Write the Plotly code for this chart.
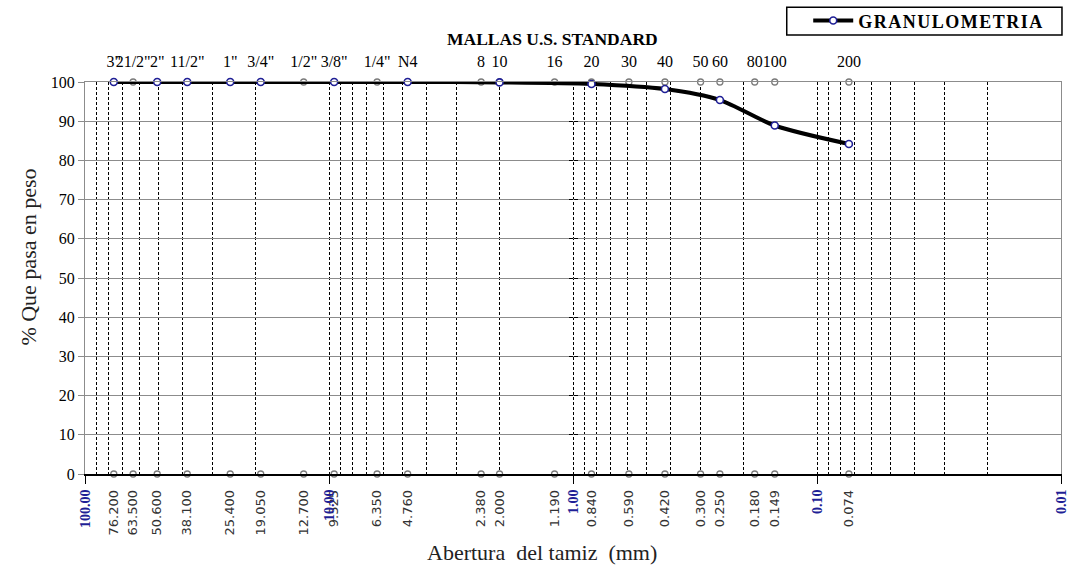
import plotly.graph_objects as go

# ---------------- data ----------------
sieve_names = ['3"', '21/2"', '2"', '11/2"', '1"', '3/4"', '1/2"', '3/8"', '1/4"', 'N4',
               '8', '10', '16', '20', '30', '40', '50', '60', '80', '100', '200']
sieve_openings = [76.2, 63.5, 50.6, 38.1, 25.4, 19.05, 12.7, 9.525, 6.35, 4.76,
                  2.38, 2.0, 1.19, 0.84, 0.59, 0.42, 0.30, 0.25, 0.18, 0.149, 0.074]

data_openings = [76.2, 50.6, 38.1, 25.4, 19.05, 9.525, 4.76, 2.0, 0.84, 0.42, 0.25, 0.149, 0.074]
data_passing = [100, 100, 100, 100, 100, 100, 100, 99.9, 99.5, 98.2, 95.4, 88.9, 84.2]

decade_vals = [100, 10, 1, 0.1, 0.01]
decade_text = ["100.00", "10.00", "1.00", "0.10", "0.01"]

y_ticks = list(range(0, 101, 10))

opening_text = [f"{v:.3f}" for v in sieve_openings]
grid_vals = [m * 10 ** e for e in (1, 0, -1, -2) for m in range(1, 10) if 0.01 < m * 10 ** e < 100]

SERIF = "Liberation Serif"
NAVY = "#1f1f96"
XR = [2, -2]  # log10 range, reversed (100 -> 0.01)
HS = "\u200a"  # hair space for letter spacing in legend

fig = go.Figure()

# sieve marker rows (bottom and top)
fig.add_trace(go.Scatter(x=sieve_openings, y=[0] * len(sieve_openings), mode="markers",
                         marker=dict(symbol="circle", size=6, color="white",
                                     line=dict(color="#7a7a7a", width=1.3)),
                         showlegend=False, cliponaxis=False, hoverinfo="skip"))
fig.add_trace(go.Scatter(x=sieve_openings, y=[100] * len(sieve_openings), mode="markers",
                         marker=dict(symbol="circle", size=6, color="white",
                                     line=dict(color="#7a7a7a", width=1.3)),
                         showlegend=False, cliponaxis=False, hoverinfo="skip"))

# grading curve
fig.add_trace(go.Scatter(x=data_openings, y=data_passing, mode="lines+markers",
                         name=HS.join("GRANULOMETRIA"),
                         line=dict(color="black", width=4, shape="spline", smoothing=0.8),
                         marker=dict(symbol="circle", size=7, color="white",
                                     line=dict(color=NAVY, width=1.6)),
                         cliponaxis=False))

# dummy traces so overlay axes get drawn
fig.add_trace(go.Scatter(x=[], y=[], xaxis="x2", yaxis="y", showlegend=False))
fig.add_trace(go.Scatter(x=[], y=[], xaxis="x3", yaxis="y", showlegend=False))
fig.add_trace(go.Scatter(x=[], y=[], xaxis="x", yaxis="y2", showlegend=False))
fig.add_trace(go.Scatter(x=[], y=[], xaxis="x", yaxis="y3", showlegend=False))

fig.update_layout(
    width=1070, height=568,
    margin=dict(l=85, r=9, t=82, b=94, autoexpand=False),
    paper_bgcolor="white", plot_bgcolor="white",
    font=dict(family=SERIF, color="black"),
    xaxis=dict(type="log", range=XR, tickmode="array", tickvals=sieve_openings,
               ticktext=opening_text, tickangle=-90,
               tickfont=dict(family="DejaVu Sans", size=13, color="#333333"),
               ticks="outside", ticklen=9, tickcolor="rgba(0,0,0,0)",
               showgrid=False, zeroline=False, showline=True, linecolor="black", linewidth=1.5,
               minor=dict(tickmode="array", tickvals=grid_vals, showgrid=True,
                          griddash="3px,2px", gridcolor="black", gridwidth=1, ticks=""),
               automargin=False),
    xaxis2=dict(type="log", range=XR, overlaying="x", anchor="y", side="bottom",
                tickmode="array", tickvals=decade_vals, ticktext=decade_text, tickangle=-90,
                tickfont=dict(family=SERIF, size=14, color=NAVY, weight="bold"),
                ticks="outside", ticklen=9, tickcolor="black", tickwidth=1.2,
                showgrid=False, zeroline=False, showline=False, automargin=False),
    xaxis3=dict(type="log", range=XR, overlaying="x", anchor="y", side="top",
                tickmode="array", tickvals=sieve_openings, ticktext=sieve_names, tickangle=0,
                tickfont=dict(family=SERIF, size=16, color="black"),
                ticks="outside", ticklen=8, tickcolor="rgba(0,0,0,0)",
                showgrid=False, zeroline=False, showline=True, linecolor="#8c8c8c", linewidth=1,
                automargin=False),
    yaxis=dict(range=[0, 100], tickmode="array", tickvals=y_ticks,
               tickfont=dict(family=SERIF, size=16, color="black"),
               ticks="outside", ticklen=6, tickcolor="#8c8c8c",
               showgrid=True, gridcolor="#8c8c8c", gridwidth=1.3, zeroline=False,
               showline=True, linecolor="#8c8c8c", linewidth=1.2, mirror=True,
               automargin=False),
    yaxis2=dict(range=[0, 100], overlaying="y", anchor="free", position=0.5, side="left",
                tickmode="array", tickvals=y_ticks, showticklabels=False,
                ticks="outside", ticklen=4, tickcolor="black", showgrid=False,
                zeroline=False, showline=False),
    yaxis3=dict(range=[0, 100], overlaying="y", anchor="free", position=0.5, side="left",
                tickmode="array", tickvals=y_ticks, showticklabels=False,
                ticks="inside", ticklen=4, tickcolor="black", showgrid=False,
                zeroline=False, showline=False),
    legend=dict(x=0.741, xanchor="left", y=1.156, yanchor="middle",
                borderwidth=0, bgcolor="rgba(0,0,0,0)",
                font=dict(family=SERIF, size=18, color="black", weight="bold"),
                itemwidth=40, tracegroupgap=0),
    showlegend=True,
)

# legend frame
fig.add_shape(type="rect", xref="paper", yref="paper", x0=0.719, x1=1.001, y0=1.120, y1=1.191,
              line=dict(color="black", width=1.5), fillcolor="white", layer="below")

fig.add_annotation(text="MALLAS U.S. STANDARD", xref="paper", yref="paper",
                   x=0.479, y=1.11, xanchor="center", yanchor="middle", showarrow=False,
                   font=dict(family=SERIF, size=17.5, color="black", weight="bold"))
fig.add_annotation(text="Abertura\u00a0 del tamiz\u00a0 (mm)", xref="paper", yref="paper",
                   x=0.468, y=-0.2, xanchor="center", yanchor="middle", showarrow=False,
                   font=dict(family=SERIF, size=22, color="#222222"))
fig.add_annotation(text="% Que pasa en peso", xref="paper", yref="paper",
                   x=-0.058, y=0.553, xanchor="center", yanchor="middle", showarrow=False,
                   textangle=-90, font=dict(family=SERIF, size=22, color="#222222"))

fig.write_html("out.html")
